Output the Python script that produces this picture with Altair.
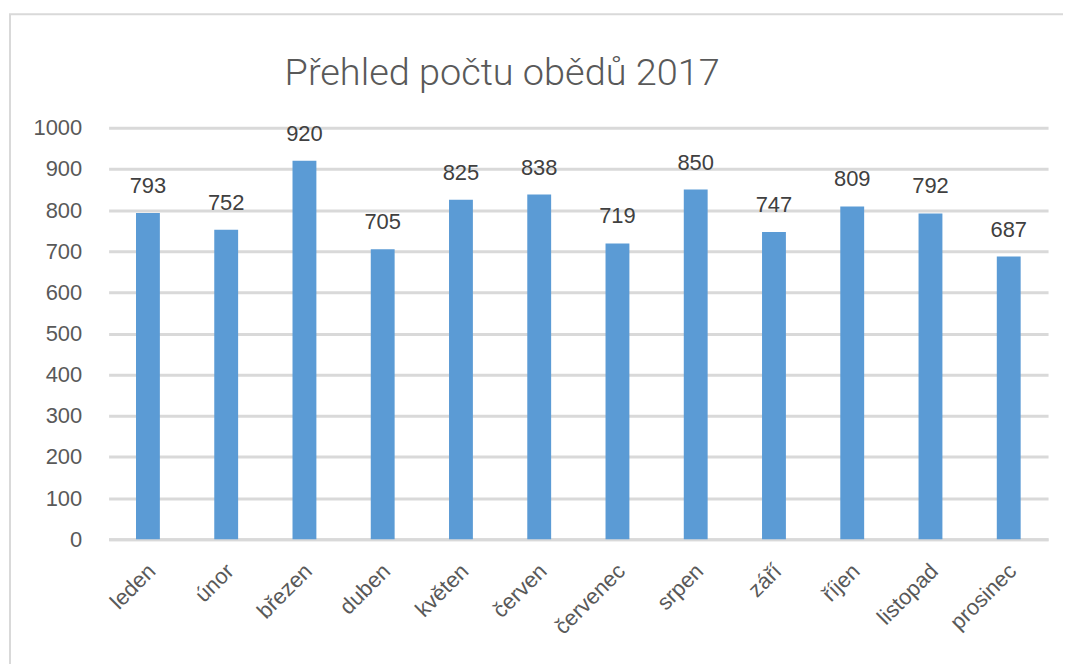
import altair as alt
import pandas as pd

months = ["leden", "únor", "březen", "duben", "květen", "červen",
          "červenec", "srpen", "září", "říjen", "listopad", "prosinec"]
values = [793, 752, 920, 705, 825, 838, 719, 850, 747, 809, 792, 687]
y_ticks = [0, 100, 200, 300, 400, 500, 600, 700, 800, 900, 1000]
title_text = "Přehled počtu obědů 2017"

df = pd.DataFrame({"mesic": months, "obedy": values})

FONT = "Liberation Sans"
TXT = "#595959"

base = alt.Chart(df).encode(
    x=alt.X("mesic:N", sort=months,
            scale=alt.Scale(paddingInner=0.695, paddingOuter=0.35),
            axis=alt.Axis(title=None, labelAngle=-45, labelFontSize=22,
                          labelFont=FONT, labelColor=TXT, ticks=False,
                          labelAlign="right", labelBaseline="middle",
                          domainColor="#d9d9d9", domainWidth=3,
                          labelPadding=28, labelOffset=4, grid=False)),
    y=alt.Y("obedy:Q", scale=alt.Scale(domain=[0, 1000], nice=False),
            axis=alt.Axis(title=None, values=y_ticks, format="d", labelFontSize=22,
                          labelFont=FONT, labelColor=TXT, ticks=False,
                          domain=False, gridColor="#d9d9d9", gridWidth=3,
                          labelPadding=27)),
)

bars = base.mark_bar(color="#5b9bd5")
labels = base.mark_text(dy=-20, baseline="alphabetic", fontSize=22,
                        font=FONT, color="#404040").encode(text="obedy:Q")

one = pd.DataFrame({"t": [title_text]})
frame = alt.Chart(one).mark_rect(
    fill=None, stroke="#d9d9d9", strokeWidth=2, clip=False
).encode(x=alt.value(-99), x2=alt.value(1100), y=alt.value(-114), y2=alt.value(700))

title = alt.Chart(one).mark_text(
    fontSize=38, font="Roboto", fontWeight=300, color=TXT, baseline="alphabetic",
    align="center"
).encode(text="t:N", x=alt.value(395), y=alt.value(-43))

chart = alt.layer(frame, bars, labels, title).properties(
    width=943, height=413,
    autosize=alt.AutoSizeParams(type="none"),
    padding={"left": 101, "top": 119, "right": 15, "bottom": 130},
).configure_view(stroke=None)

chart.save("out.html", embed_options={"renderer": "svg", "actions": False})
